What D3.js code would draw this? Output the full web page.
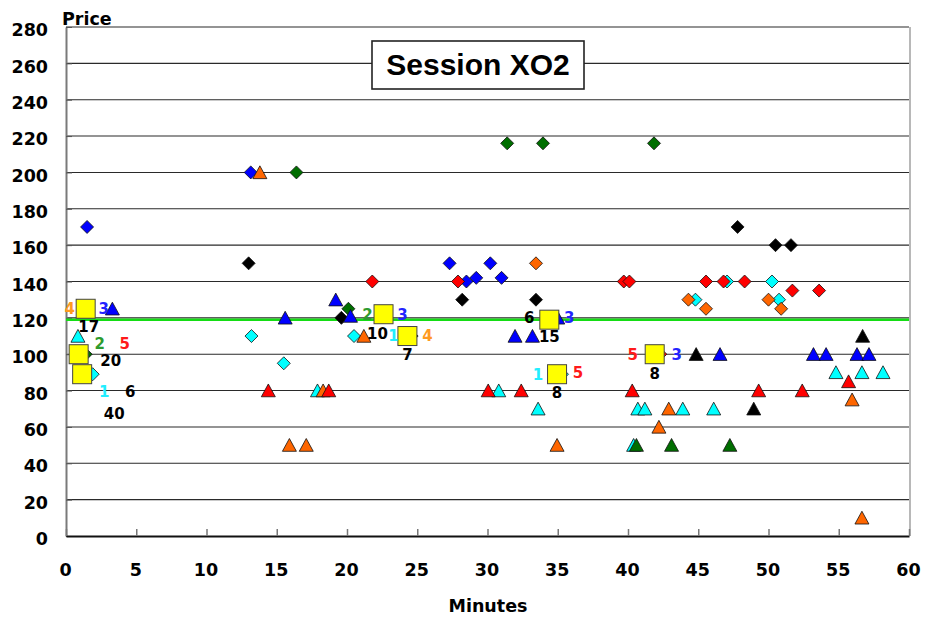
<!DOCTYPE html>
<html><head><meta charset="utf-8">
<script src="https://cdn.jsdelivr.net/npm/d3@7/dist/d3.min.js"></script>
<style>body{margin:0;background:#fff}</style>
</head><body>
<svg id="chart" width="939" height="619"></svg>
<script>
// ---------------- DATA ----------------
const chartTitle = "Session XO2";
const xTickValues = [0,5,10,15,20,25,30,35,40,45,50,55,60];
const yTickValues = [0,20,40,60,80,100,120,140,160,180,200,220,240,260,280];
const equilibriumPrice = 119;

// trader id -> marker colour / label colour
const traderIds    = [1, 2, 3, 4, 5, 6];
const markerColors = ["#00FFFF", "#006E00", "#0000FF", "#FF6600", "#FF0000", "#000000"];
const labelColors  = ["#22EEFF", "#2E9B2E", "#2323FF", "#FF9A1F", "#FF1A1A", "#000000"];
const drawOrder    = [1, 4, 2, 3, 6, 5];

// diamonds (offers)
const diamondTraders = [3,3,3,3,3,3,3, 6,6,6,6,6,6,6,6, 2,2,2,2,2,2, 5,5,5,5,5,5,5,5,5,5, 1,1,1,1,1,1,1,1,1, 4,4,4,4,4];
const diamondTimes   = [1.5,13.15,27.3,28.5,29.2,30.2,31.0, 13.0,19.6,28.2,33.45,24.6,47.8,50.5,51.6, 16.4,20.1,31.4,33.95,41.85,1.4, 21.8,27.9,39.7,40.1,45.55,46.8,48.3,51.7,53.6,42.3, 13.2,15.5,20.5,47.05,50.25,44.8,50.75,1.9,35.3, 33.45,44.3,45.55,50.0,50.9];
const diamondPrices  = [170,200,150,140,142,150,142, 150,120,130,130,110,170,160,160, 200,125,216,216,216,100, 140,140,140,140,140,140,140,135,135,100, 110,95,110,140,140,130,130,89,89, 150,130,125,130,125];

// triangles (bids)
const triangleTraders = [3,3,3,3,3,3,3,3,3,3,3,3, 6,6,6, 2,2,2, 5,5,5,5,5,5,5,5, 1,1,1,1,1,1,1,1,1,1,1,1, 4,4,4,4,4,4,4,4,4,4];
const triangleTimes   = [3.3,15.6,19.2,20.25,31.96,33.2,35.0,46.55,53.2,54.1,56.3,57.15, 44.85,48.95,56.7, 40.6,43.1,47.25, 14.4,18.7,30.05,32.4,40.3,49.3,52.4,55.7, 0.85,17.9,30.8,33.6,40.7,41.2,43.9,46.1,40.4,54.8,56.65,58.15, 13.8,15.9,17.1,18.3,21.2,34.95,42.9,42.2,55.95,56.65];
const trianglePrices  = [125,120,130,121,110,110,120,100,100,100,100,100, 100,70,110, 50,50,50, 80,80,80,80,80,80,80,85, 110,80,80,70,70,70,70,70,50,90,90,90, 200,50,50,80,110,50,70,60,75,10];

// transactions (yellow squares)
const tradeTimes   = [1.4, 0.9, 1.15, 22.6, 24.3, 34.4, 34.95, 41.9];
const tradePrices  = [125, 100, 89, 122, 110, 119, 89, 100];
const tradeSellers = [4, 2, 1, 2, 1, 6, 1, 5];
const tradeBuyers  = [3, 5, 6, 3, 4, 3, 5, 3];
const tradeNumbers = ["17", "20", "40", "10", "7", "15", "8", "8"];

// label placement (layout only): [leftDx,leftDy, rightDx,rightDy, belowDx,belowDy]
const tradeLabelOffsets = [
  [-16,0, 18,0, 3,18],
  [21,-11, 46,-11, 32,6],
  [22,17, 48,17, 32,39],
  [-16,0, 19,0, -6,19],
  [-14,0, 20,0, 0,19],
  [-20,-2, 20,-2, 0,17],
  [-19,0, 21,-2, 0,18],
  [-22,0, 22,0, 0,19]
];

// ---------------- DRAW ----------------
const svg = d3.select("#chart");
const L = 66, R = 909, T = 27, B = 536;
const x = d3.scaleLinear().domain([0, 60]).range([L, R]);
const y = d3.scaleLinear().domain([0, 280]).range([B, T]);
const colorOf = id => markerColors[traderIds.indexOf(id)];
const labelColorOf = id => labelColors[traderIds.indexOf(id)];
const axisFont = "'DejaVu Sans', sans-serif";

// gridlines
svg.append("g").selectAll("line").data(yTickValues.filter(v => v > 0)).join("line")
  .attr("x1", L).attr("x2", R).attr("y1", d => y(d)).attr("y2", d => y(d))
  .attr("stroke", "#2a2a2a").attr("stroke-width", 1.1);

// right border
svg.append("line").attr("x1", R+1).attr("x2", R+1).attr("y1", T).attr("y2", B)
  .attr("stroke", "#b8b8b8").attr("stroke-width", 2);

// y axis
const yAxis = d3.axisLeft(y).tickValues(yTickValues).tickSize(-6).tickSizeOuter(0).tickPadding(18);
const yg = svg.append("g").attr("transform", `translate(${L},0)`).call(yAxis);
yg.select(".domain").attr("stroke", "#7a7a7a").attr("stroke-width", 2);
yg.selectAll(".tick line").attr("stroke", "#555");
yg.selectAll(".tick text").attr("font-family", axisFont).attr("font-weight", "bold")
  .attr("font-size", 17.5).attr("fill", "#000").attr("dy", "0.38em").attr("transform", "translate(0,2)");

// x axis
const xAxis = d3.axisBottom(x).tickValues(xTickValues).tickSize(-7).tickSizeOuter(0).tickPadding(28);
const xg = svg.append("g").attr("transform", `translate(0,${B})`).call(xAxis);
xg.select(".domain").attr("stroke", "#111").attr("stroke-width", 2);
xg.selectAll(".tick line").attr("stroke", "#777").attr("stroke-width", 1.5);
xg.selectAll(".tick text").attr("font-family", axisFont).attr("font-weight", "bold")
  .attr("font-size", 17.5).attr("fill", "#000").attr("dy", "0.7em").attr("transform", "translate(-1,0)");

// axis titles
svg.append("text").attr("x", 62).attr("y", 25).text("Price")
  .attr("font-family", axisFont).attr("font-weight", "bold").attr("font-size", 17.5);
svg.append("text").attr("x", 488).attr("y", 612).attr("text-anchor", "middle").text("Minutes")
  .attr("font-family", axisFont).attr("font-weight", "bold").attr("font-size", 17.5);

// title box
svg.append("rect").attr("x", 372).attr("y", 41).attr("width", 212).attr("height", 48)
  .attr("fill", "#fff").attr("stroke", "#222").attr("stroke-width", 1.6);
svg.append("text").attr("x", 478).attr("y", 75).attr("text-anchor", "middle").text(chartTitle)
  .attr("font-family", "'Liberation Sans', Arial, sans-serif").attr("font-weight", "bold").attr("font-size", 30);

// equilibrium line
svg.append("line").attr("x1", L).attr("x2", R).attr("y1", y(equilibriumPrice)).attr("y2", y(equilibriumPrice))
  .attr("stroke", "#14DD14").attr("stroke-width", 2.6);

// markers
const diamondPath = "M0,-6.5L6.5,0L0,6.5L-6.5,0Z";
const trianglePath = "M0,-6.6L7,6.2L-7,6.2Z";
function drawMarkers(traders, times, prices, path) {
  const pts = traders.map((t, i) => ({t, x: times[i], p: prices[i]}));
  pts.sort((a, b) => drawOrder.indexOf(a.t) - drawOrder.indexOf(b.t));
  svg.append("g").selectAll("path").data(pts).join("path")
    .attr("d", path)
    .attr("transform", d => `translate(${x(d.x)},${y(d.p)})`)
    .attr("fill", d => colorOf(d.t)).attr("stroke", "#111").attr("stroke-width", 0.8);
}
drawMarkers(diamondTraders, diamondTimes, diamondPrices, diamondPath);
drawMarkers(triangleTraders, triangleTimes, trianglePrices, trianglePath);

// trades
const trades = tradeTimes.map((t, i) => ({t, p: tradePrices[i], s: tradeSellers[i], b: tradeBuyers[i], n: tradeNumbers[i], o: tradeLabelOffsets[i]}));
svg.append("g").selectAll("rect").data(trades).join("rect")
  .attr("x", d => x(d.t) - 9.5).attr("y", d => y(d.p) - 9.5).attr("width", 19).attr("height", 19)
  .attr("fill", "#FFFF00").attr("stroke", "#444").attr("stroke-width", 1);

const lab = svg.append("g").attr("font-family", axisFont).attr("font-weight", "bold")
  .attr("font-size", 15).attr("text-anchor", "middle");
trades.forEach(d => {
  const cx = x(d.t), cy = y(d.p), o = d.o;
  lab.append("text").attr("x", cx + o[0]).attr("y", cy + o[1]).attr("dy", "0.36em").attr("fill", labelColorOf(d.s)).text(d.s);
  lab.append("text").attr("x", cx + o[2]).attr("y", cy + o[3]).attr("dy", "0.36em").attr("fill", labelColorOf(d.b)).text(d.b);
  lab.append("text").attr("x", cx + o[4]).attr("y", cy + o[5]).attr("dy", "0.36em").attr("fill", "#000").text(d.n);
});
</script>
</body></html>
